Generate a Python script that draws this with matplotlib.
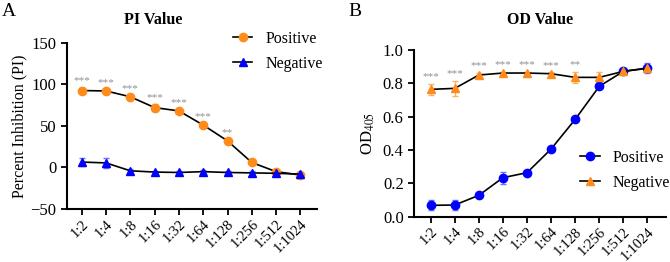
import matplotlib
matplotlib.use('Agg')
import matplotlib.pyplot as plt
import numpy as np

plt.rcParams['font.family'] = ['Liberation Serif', 'DejaVu Serif']
plt.rcParams['mathtext.fontset'] = 'stix'

dilutions = ['1:2', '1:4', '1:8', '1:16', '1:32', '1:64', '1:128', '1:256', '1:512', '1:1024']

# PI values
pi_pos = [92.5, 92, 85, 72, 68, 51, 32, 6, -5, -9]
pi_pos_err = [3, 1.5, 1.5, 4, 1.5, 1.5, 1.5, 1, 2, 4]
pi_neg = [6.5, 5.5, -4, -5.5, -6, -5, -6, -6.5, -7, -8]
pi_neg_err = [5, 6, 2, 1.5, 1.5, 1.5, 1.5, 2, 3, 2]
pi_stars = ['***', '***', '***', '***', '***', '***', '**', '', '', '']

# OD values
od_pos = [0.068, 0.07, 0.128, 0.234, 0.264, 0.406, 0.584, 0.782, 0.872, 0.892]
od_pos_err = [0.03, 0.03, 0.008, 0.035, 0.008, 0.008, 0.008, 0.008, 0.01, 0.03]
od_neg = [0.764, 0.77, 0.85, 0.862, 0.862, 0.858, 0.836, 0.836, 0.872, 0.89]
od_neg_err = [0.035, 0.045, 0.012, 0.008, 0.008, 0.008, 0.035, 0.03, 0.008, 0.02]
od_stars = ['***', '***', '***', '***', '***', '***', '**', '', '', '']

orange = '#FF8C1A'
orange_light = '#F9B26A'
blue = '#0000FF'
blue_light = '#7070FF'

x = np.arange(len(dilutions))

fig = plt.figure(figsize=(6.7, 2.62), dpi=100)
axA = fig.add_axes([0.0995, 0.202, 0.3735, 0.635])
axB = fig.add_axes([0.618, 0.173, 0.376, 0.636])


def style(ax):
    for s in ['top', 'right']:
        ax.spines[s].set_visible(False)
    for s in ['left', 'bottom']:
        ax.spines[s].set_linewidth(1.5)
    ax.tick_params(width=1.3, length=4, labelsize=12)
    ax.set_xticks(x)
    ax.set_xticklabels(dilutions, rotation=45, ha='right', rotation_mode='anchor', fontsize=10.5)
    ax.tick_params(axis='x', pad=2)


# Panel A
axA.errorbar(x, pi_pos, yerr=pi_pos_err, fmt='none', ecolor=orange_light, capsize=2.5, elinewidth=1, zorder=2)
axA.errorbar(x, pi_neg, yerr=pi_neg_err, fmt='none', ecolor=blue_light, capsize=2.5, elinewidth=1, zorder=2)
axA.plot(x, pi_pos, color='black', lw=1.2, marker='o', ms=6, mfc=orange, mec=orange, label='Positive', zorder=3)
axA.plot(x, pi_neg, color='black', lw=1.2, marker='^', ms=6, mfc=blue, mec=blue, label='Negative', zorder=3)
for i, s in enumerate(pi_stars):
    if s:
        axA.text(x[i], pi_pos[i] + pi_pos_err[i] + 3, s, ha='center', va='bottom', fontsize=8, color='#909090')
axA.set_ylim(-50, 150)
axA.set_yticks([-50, 0, 50, 100, 150])
axA.set_xlim(-0.62, 9.68)
axA.set_ylabel('Percent Inhibition (PI)', fontsize=11.5, labelpad=2)
style(axA)
axA.legend(loc='upper left', bbox_to_anchor=(0.64, 1.11), frameon=False, fontsize=11.5,
           handlelength=1.2, handletextpad=0.8, labelspacing=0.55, borderaxespad=0)

# Panel B
axB.errorbar(x, od_pos, yerr=od_pos_err, fmt='none', ecolor=blue_light, capsize=2.5, elinewidth=1, zorder=2)
axB.errorbar(x, od_neg, yerr=od_neg_err, fmt='none', ecolor=orange_light, capsize=2.5, elinewidth=1, zorder=2)
axB.plot(x, od_pos, color='black', lw=1.2, marker='o', ms=6, mfc=blue, mec=blue, label='Positive', zorder=3)
axB.plot(x, od_neg, color='black', lw=1.2, marker='^', ms=6, mfc=orange, mec=orange, label='Negative', zorder=3)
for i, s in enumerate(od_stars):
    if s:
        axB.text(x[i], od_neg[i] + od_neg_err[i] + 0.015, s, ha='center', va='bottom', fontsize=8, color='#909090')
axB.set_ylim(0, 1.0)
axB.set_yticks([0.0, 0.2, 0.4, 0.6, 0.8, 1.0])
axB.set_yticklabels(['0.0', '0.2', '0.4', '0.6', '0.8', '1.0'])
axB.set_xlim(-0.69, 9.77)
axB.set_ylabel(r'OD$_{\mathrm{405}}$', fontsize=12, labelpad=4)
style(axB)
axB.legend(loc='upper left', bbox_to_anchor=(0.635, 0.44), frameon=False, fontsize=11.5,
           handlelength=1.2, handletextpad=0.8, labelspacing=0.55, borderaxespad=0)

fig.text(153 / 670, 1 - 20 / 262, 'PI Value', ha='center', va='center', fontsize=11.5, fontweight='bold')
fig.text(540 / 670, 1 - 20 / 262, 'OD Value', ha='center', va='center', fontsize=11.5, fontweight='bold')
fig.text(2 / 670, 1 - 12 / 262, 'A', ha='left', va='center', fontsize=14)
fig.text(348 / 670, 1 - 12 / 262, 'B', ha='left', va='center', fontsize=14)

fig.savefig('out.png', dpi=100)
